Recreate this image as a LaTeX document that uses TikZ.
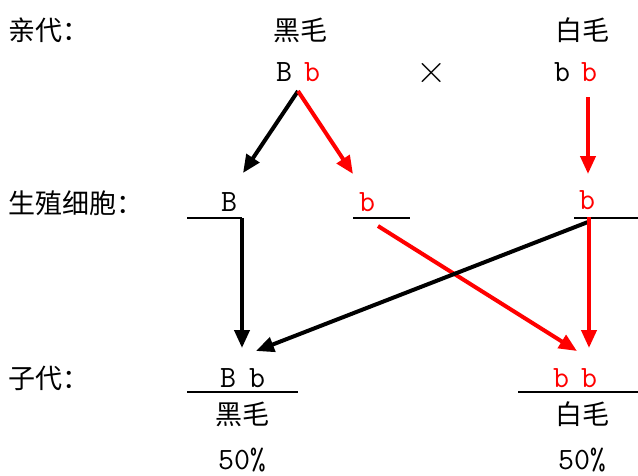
\documentclass[tikz,border=0pt]{standalone}
\usepackage{fontspec}
\newfontfamily\cjk{Noto Sans CJK SC}
\usetikzlibrary{arrows.meta}
\begin{document}
\begin{tikzpicture}[x=1pt,y=-1pt,
  zh/.style={font=\cjk\fontsize{27}{30}\selectfont, inner sep=0pt},
  gene/.style={font=\ttfamily\fontsize{31}{34}\selectfont, inner sep=0pt},
  redgene/.style={gene, text=red},
  bar/.style={line width=1.8pt},
  arr/.style={line width=4pt, -{Triangle[length=18pt,width=15pt]}},
  blk/.style={arr, black},
  rd/.style={arr, red}]
\useasboundingbox (0,0) rectangle (638,475);
% row labels
\node[zh, anchor=west] (lp) at (8,30) {亲代：};
\node[zh, anchor=west] (lg) at (8,203) {生殖细胞：};
\node[zh, anchor=west] (lo) at (8,378) {子代：};
% parents
\node[zh] (hm) at (300,30) {黑毛};
\node[zh] (bm) at (582,30) {白毛};
\node[gene] (pB) at (284,72) {B};
\node[redgene] (pb) at (312,72) {b};
\node[font=\fontsize{42}{44}\selectfont, inner sep=0pt] (x) at (432,73) {×};
\node[gene] (qb1) at (562,72) {b};
\node[redgene] (qb2) at (589,72) {b};
% gametes
\node[gene] (gB) at (229,202) {B};
\node[redgene] (gb) at (367,202) {b};
\node[redgene] (gc) at (587,200) {b};
\coordinate (l1a) at (187,218); \coordinate (l1b) at (242,218);
\coordinate (l2a) at (353,218); \coordinate (l2b) at (410,218);
\coordinate (l3a) at (574,218); \coordinate (l3b) at (638,218);
\draw[bar] (l1a) -- (l1b);
\draw[bar] (l2a) -- (l2b);
\draw[bar] (l3a) -- (l3b);
% offspring
\node[gene] (oB) at (228,378) {B};
\node[gene] (ob) at (257,378) {b};
\coordinate (l4a) at (187,392); \coordinate (l4b) at (298,392);
\draw[bar] (l4a) -- (l4b);
\node[zh] (ohm) at (242,414) {黑毛};
\node[gene] (op1) at (242,460) {50\%};
\node[redgene] (rb1) at (561,378) {b};
\node[redgene] (rb2) at (589,378) {b};
\coordinate (l5a) at (518,392); \coordinate (l5b) at (638,392);
\draw[bar] (l5a) -- (l5b);
\node[zh] (obm) at (582,414) {白毛};
\node[gene] (op2) at (582,460) {50\%};
% arrow end points
\coordinate (top) at (298,91);
\coordinate (t1) at (243,173);
\coordinate (t2) at (353,174);
\coordinate (s3) at (588,97);
\coordinate (t3) at (588,174);
\coordinate (t4) at (242,348);
\coordinate (s5) at (588,222);
\coordinate (t5) at (256,351);
\coordinate (s6) at (378,226);
\coordinate (t6) at (577,351);
\coordinate (s7) at (589,217);
\coordinate (t7) at (589,348);
% arrows
\draw[blk] (top) -- (t1);
\draw[rd] (top) -- (t2);
\draw[rd] (s3) -- (t3);
\draw[blk] (l1b) -- (t4);
\draw[rd] (s6) -- (t6);
\draw[blk] (s5) -- (t5);
\draw[rd] (s7) -- (t7);
\end{tikzpicture}
\end{document}
